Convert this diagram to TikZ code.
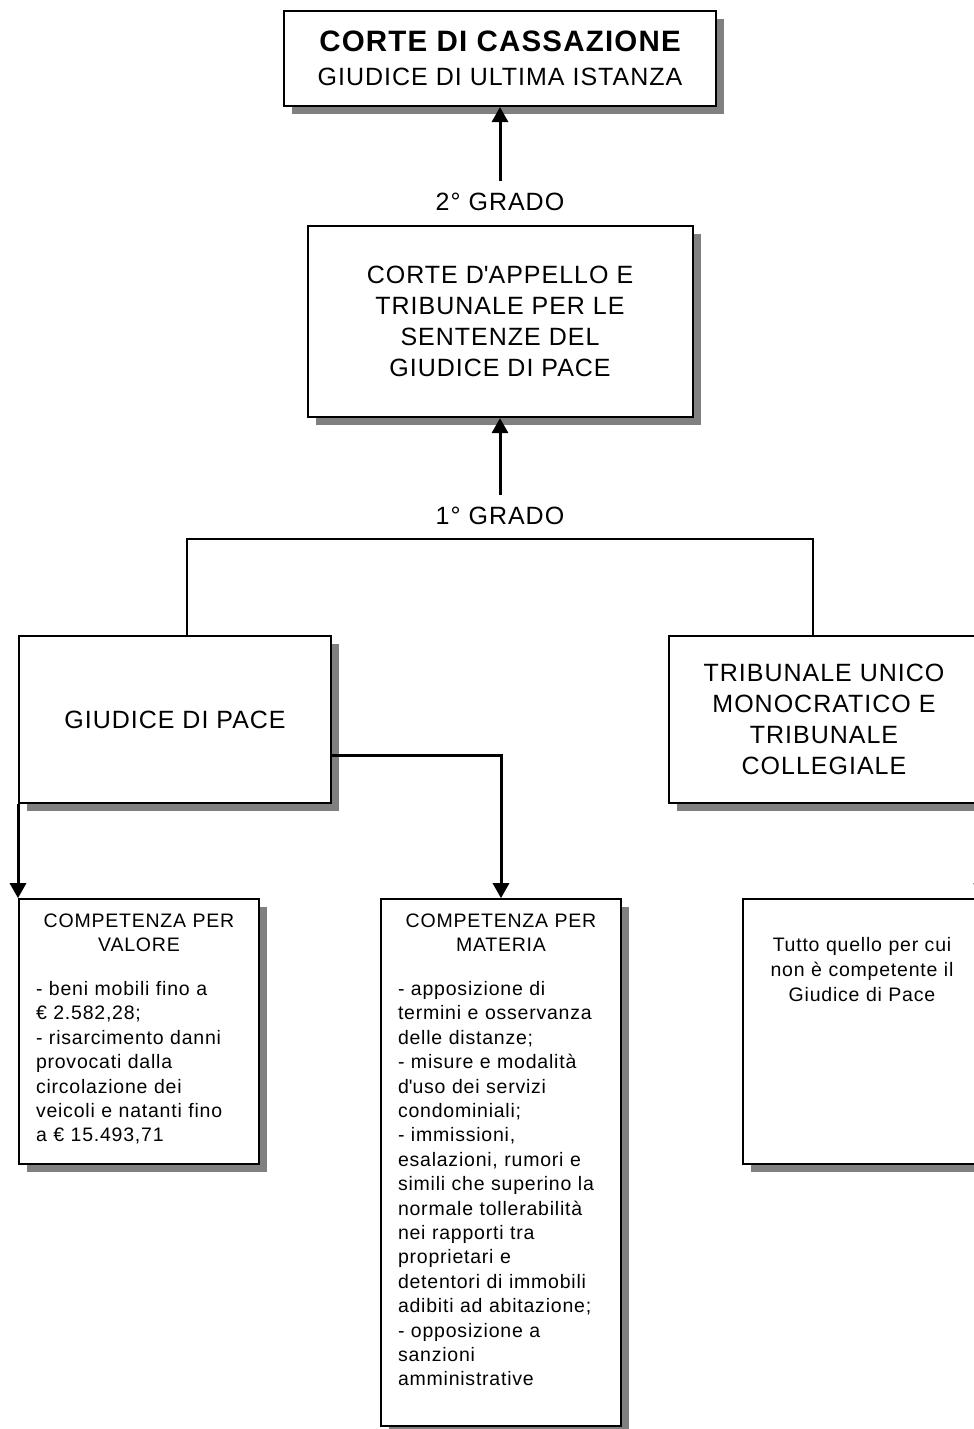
\documentclass[tikz,border=0pt]{standalone}
\usepackage{fontspec}
\setmainfont{Liberation Sans}[LetterSpace=4]
\usetikzlibrary{arrows.meta,positioning,shadows}
\definecolor{shadowgray}{RGB}{128,128,128}

\begin{document}
\begin{tikzpicture}[
		x=1pt, y=-1pt,
		arrow/.style={-{Triangle[width=16pt,length=15pt]}, line width=3pt},
		link/.style={line width=2.5pt},
		block/.style={draw, line width=2pt, fill=white, drop shadow={shadow xshift=8pt, shadow yshift=-8pt, fill=shadowgray, opacity=1}, align=center, font=\fontsize{25}{31}\selectfont},
		smallblock/.style={block, minimum width=240pt, minimum height=265pt},
		grado/.style={inner xsep=0pt, inner ysep=12pt, font=\fontsize{25}{31}\selectfont},
		note/.style={inner sep=0pt, text width=206pt, align=left, font=\fontsize{19.5}{24.4}\selectfont},
	]
		\path[use as bounding box, fill=white] (0,0) rectangle (974,1429);

		\node (cass) [block, minimum width=432pt, minimum height=95pt, font=\fontsize{25}{34}\selectfont] at (500,58.5) {{\fontsize{29.5}{34}\selectfont\bfseries CORTE DI CASSAZIONE}\\GIUDICE DI ULTIMA ISTANZA};
		\node (grado2) [grado, below=74pt of cass] {2° GRADO};
		\node (appello) [block, minimum width=385pt, minimum height=191pt, below=2pt of grado2] {CORTE D\textquotesingle APPELLO E\\TRIBUNALE PER LE\\SENTENZE DEL\\GIUDICE DI PACE};
		\node (grado1) [grado, below=77pt of appello] {1° GRADO};
		\coordinate[below=2pt of grado1] (bus);

		\node (gdp) [block, minimum width=312pt, minimum height=167pt, below left=96pt and 168pt of bus] {GIUDICE DI PACE};
		\node (trib) [block, minimum width=310pt, minimum height=167pt, below right=96pt and 168pt of bus] {TRIBUNALE UNICO\\MONOCRATICO E\\TRIBUNALE\\COLLEGIALE};

		\node (valore) [smallblock, below right=94pt and 0pt of gdp.south west] {};
		\node (materia) [smallblock, minimum height=527pt, below right=0pt and 120pt of valore.north east] {};
		\node (tutto) [smallblock, minimum width=238pt, below right=0pt and 120pt of materia.north east] {};

		\node (valoretxt) [note, below=15pt of valore.north] {{\centering COMPETENZA PER\\VALORE\par}\vspace{19.6pt}
			- beni mobili fino a\\€ 2.582,28;\\- risarcimento danni\\provocati dalla\\circolazione dei\\veicoli e natanti fino\\a € 15.493,71};
		\node (materiatxt) [note, below=15pt of materia.north] {{\centering COMPETENZA PER\\MATERIA\par}\vspace{19.6pt}
			- apposizione di\\termini e osservanza\\delle distanze;\\- misure e modalità\\d\textquotesingle uso dei servizi\\condominiali;\\- immissioni,\\esalazioni, rumori e\\simili che superino la\\normale tollerabilità\\nei rapporti tra\\proprietari e\\detentori di immobili\\adibiti ad abitazione;\\- opposizione a\\sanzioni\\amministrative};
		\node (tuttotxt) [note, align=center, font=\fontsize{19.5}{25}\selectfont, below=39pt of tutto.north] {Tutto quello per cui\\non è competente il\\Giudice di Pace};

		\draw[arrow] (grado2) -- (cass);
		\draw[arrow] (grado1) -- (appello);
		\draw[link] ([xshift=12pt]gdp.north) |- (bus) -| ([xshift=-11pt]trib.north);
		\draw[arrow] (gdp.south west) -- (valore.north west);
		\draw[arrow] ([yshift=-36pt]gdp.east) -| (materia.north);
		\draw[arrow] (trib.south east) -- (tutto.north east);
	\end{tikzpicture}
\end{document}
